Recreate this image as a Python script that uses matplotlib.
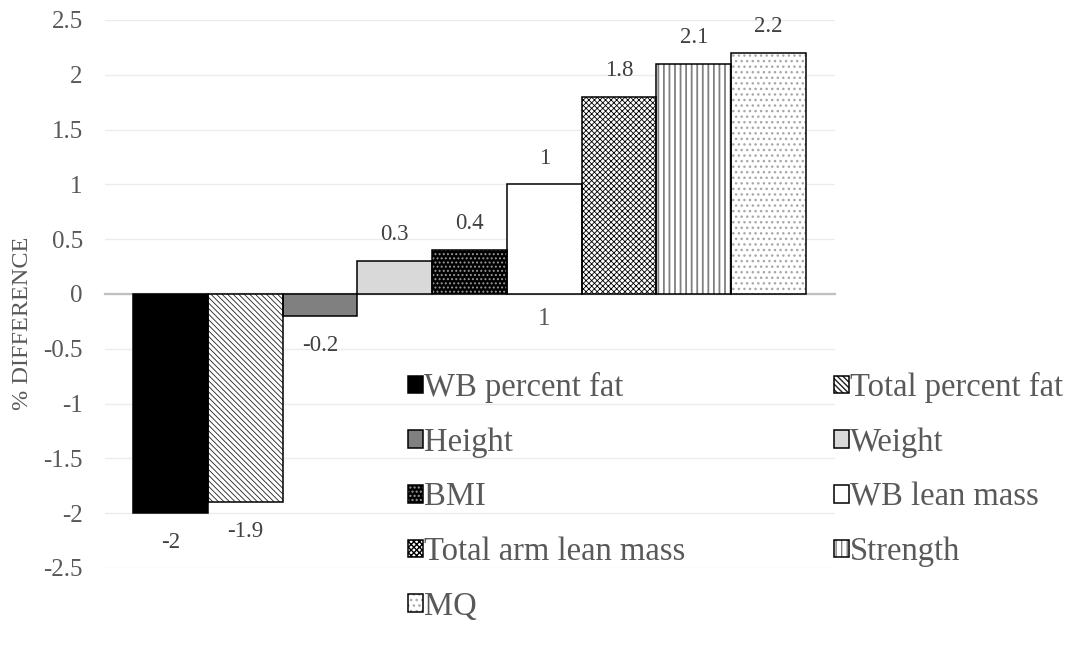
import matplotlib.pyplot as plt
from matplotlib.patches import Patch
from matplotlib.legend_handler import HandlerTuple

plt.rcParams['font.family'] = ['Liberation Serif', 'DejaVu Serif']

# one category, nine series
series = ['WB percent fat', 'Total percent fat', 'Height', 'Weight', 'BMI',
          'WB lean mass', 'Total arm lean mass', 'Strength', 'MQ']
values = [-2, -1.9, -0.2, 0.3, 0.4, 1, 1.8, 2.1, 2.2]
category = '1'
y_ticks = [-2.5, -2, -1.5, -1, -0.5, 0, 0.5, 1, 1.5, 2, 2.5]

# fill, hatch pattern, hatch colour and hatch width of each series
faces = ['black', 'white', '#808080', '#d9d9d9', 'black',
         'white', 'white', 'white', 'white']
hatches = ['', '\\' * 6, '', '', '....', '', 'xxxxxx', '|||', '...']
hatch_cols = ['black', '#202020', 'black', 'black', '#9a9a9a',
              'black', 'black', '#808080', '#a8a8a8']
hatch_lw = [0.6, 0.6, 0.6, 0.6, 0.9, 0.6, 0.6, 1.3, 1.0]

fig = plt.figure(figsize=(10.65, 6.51), dpi=100)
ax = fig.add_axes([105/1065, 1-568/651, 730/1065, 548/651])

handles = []
for i, v in enumerate(values):
    with plt.rc_context({'hatch.linewidth': hatch_lw[i]}):
        ax.bar(i, v, width=1, color=faces[i], hatch=hatches[i] or None,
               edgecolor=hatch_cols[i], linewidth=0, zorder=2)
        fill = Patch(facecolor=faces[i], hatch=hatches[i] or None,
                     edgecolor=hatch_cols[i], linewidth=0)
    ax.bar(i, v, width=1, fill=False, edgecolor='black', linewidth=1.1, zorder=3)
    rim = Patch(fill=False, edgecolor='black', linewidth=1.1)
    handles.append((fill, rim))

    off = 19 if v > 0 else -21
    ax.annotate(f'{v:g}', (i, v), xytext=(0, off), textcoords='offset points',
                ha='center', va='center', fontsize=16.5, color='#404040')

ax.set_xlim(-0.874, 8.888)
ax.set_ylim(-2.5, 2.5)
ax.set_yticks(y_ticks)
ax.set_yticklabels([f'{t:g}' for t in y_ticks])
ax.set_xticks([5])
ax.set_xticklabels([category])
ax.tick_params(axis='y', length=0, pad=16, labelsize=18, labelcolor='#595959')
ax.tick_params(axis='x', length=0, pad=10, labelsize=18, labelcolor='#595959')

ax.grid(axis='y', color='#ececec', linewidth=1, zorder=0)
ax.set_axisbelow(True)
for s in ['top', 'right', 'left']:
    ax.spines[s].set_visible(False)
ax.spines['bottom'].set_position(('data', 0))
ax.spines['bottom'].set_color('#bfbfbf')
ax.spines['bottom'].set_linewidth(1.6)
ax.spines['bottom'].set_zorder(1)

ax.set_ylabel('% DIFFERENCE', fontsize=17.5, color='#595959')
ax.yaxis.set_label_coords(-0.098, 0.447)

# legend fills row by row: left column gets even entries
order = [0, 2, 4, 6, 8, 1, 3, 5, 7]
leg = fig.legend([handles[k] for k in order], [series[k] for k in order],
                 handler_map={tuple: HandlerTuple(ndivide=1, pad=0)},
                 ncol=2, frameon=False, fontsize=23.5, labelcolor='#595959',
                 loc='upper left', bbox_to_anchor=(408/1065, 1-372/651),
                 borderpad=0, borderaxespad=0, handlelength=0.46, handleheight=0.46,
                 handletextpad=0.03, labelspacing=0.74, columnspacing=4.55)

fig.savefig('out.png', dpi=100)
